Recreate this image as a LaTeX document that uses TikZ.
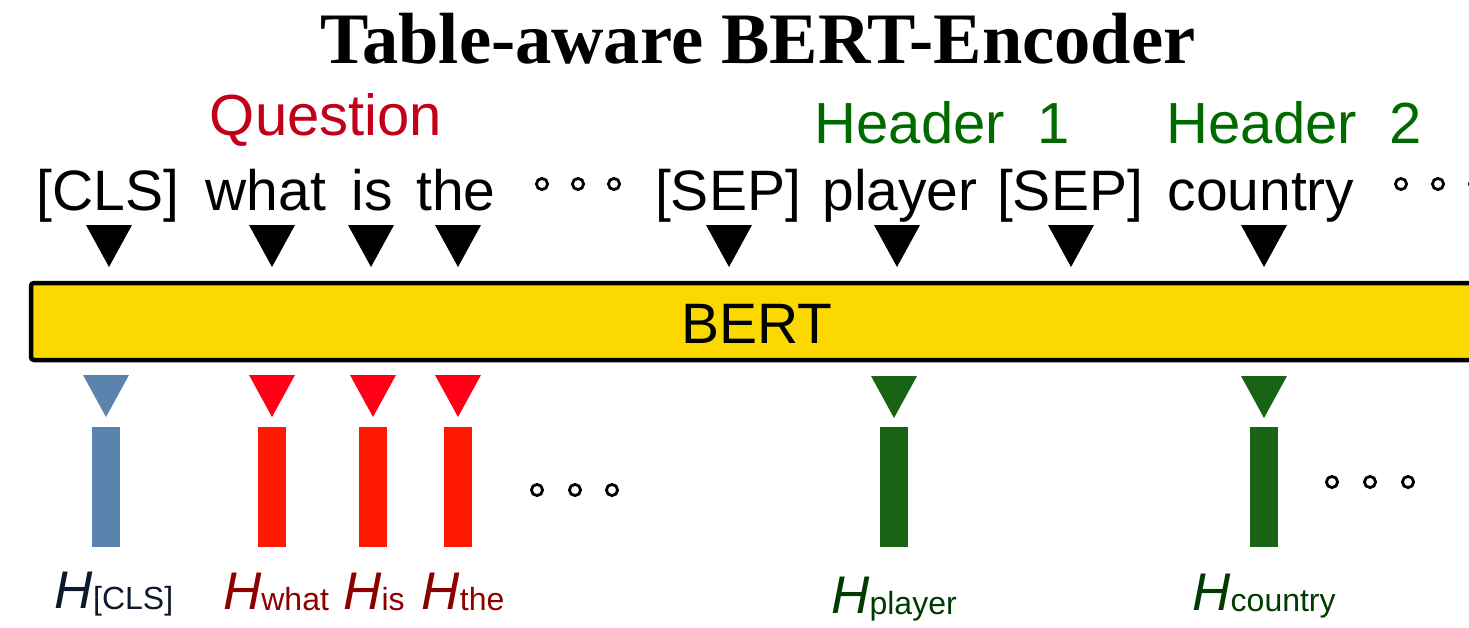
\documentclass[tikz,border=0pt]{standalone}
\usepackage{fontspec}
\setmainfont{Liberation Serif}
\newfontfamily\lsans{Liberation Sans}
\definecolor{bertyellow}{RGB}{250,216,0}
\definecolor{qred}{RGB}{195,0,25}
\definecolor{hgreen}{RGB}{0,105,0}
\definecolor{cblue}{RGB}{90,131,173}
\definecolor{tred}{RGB}{255,0,22}
\definecolor{bred}{RGB}{255,25,0}
\definecolor{dgreen}{RGB}{24,100,20}
\definecolor{labred}{RGB}{140,0,0}
\definecolor{labgreen}{RGB}{0,60,0}
\definecolor{labnavy}{RGB}{15,25,45}
\tikzset{
  tok/.style={font=\lsans\fontsize{57}{57}\selectfont, anchor=base, inner sep=0pt},
  grp/.style={font=\lsans\fontsize{58}{58}\selectfont, anchor=base, inner sep=0pt},
  hlab/.style={font=\lsans\fontsize{53}{53}\selectfont, anchor=base, inner sep=0pt},
  ring/.style={line width=2.8pt},
}
\newcommand{\downtri}[3]{\fill[#3] (#1-23,#2) -- (#1+23,#2) -- (#1,#2+42) -- cycle;}
\newcommand{\vbar}[3]{\fill[#3] (#1-14,#2) rectangle (#1+14,#2+120);}
\newcommand{\hsub}[1]{\raisebox{-1pt}{\fontsize{32}{32}\selectfont #1}}
\begin{document}
\begin{tikzpicture}[x=1pt,y=-1pt]
\useasboundingbox (0,0) rectangle (1469,627);
\clip (0,0) rectangle (1469,627);
% title
\node[font=\bfseries\fontsize{72.5}{72.5}\selectfont, anchor=base, inner sep=0pt] (title) at (758,63) {Table-aware BERT-Encoder};
% group labels
\node[grp, text=qred] (question) at (326,135) {Question};
\node[grp, text=hgreen] (header1) at (942,143) {Header\ \ 1};
\node[grp, text=hgreen] (header2) at (1294,143) {Header\ \ 2};
% tokens
\node[tok] (tcls) at (108,210) {[CLS]};
\node[tok] (twhat) at (266,210) {what};
\node[tok] (tis) at (372,210) {is};
\node[tok] (tthe) at (456,210) {the};
\node[tok] (tsep1) at (728,210) {[SEP]};
\node[tok] (tplayer) at (900,210) {player};
\node[tok] (tsep2) at (1070,210) {[SEP]};
\node[tok] (tcountry) at (1261,210) {country};
\foreach \x in {542,578,614} {\draw[ring] (\x,184) circle (5.6);}
\foreach \x in {1401,1438,1475} {\draw[ring] (\x,184) circle (5.6);}
% input triangles
\foreach \x in {109,272,371,458,729,897,1071,1264} {\downtri{\x}{225}{black}}
% BERT box
\draw[line width=4.5pt, fill=bertyellow, rounded corners=3pt] (31,283) rectangle (1520,360);
\node[tok] (bert) at (757,343) {BERT};
% output triangles and bars
\downtri{106}{375}{cblue}
\vbar{106}{427}{cblue}
\foreach \x in {272,373,458} {\downtri{\x}{375}{tred}\vbar{\x}{427}{bred}}
\foreach \x in {894,1264} {\downtri{\x}{376}{dgreen}\vbar{\x}{427}{dgreen}}
\foreach \x in {537,575,612} {\draw[ring] (\x,490) circle (5.6);}
\foreach \x in {1332,1370,1408} {\draw[ring] (\x,482) circle (5.6);}
% labels
\node[hlab, text=labnavy] (hcls) at (114,608) {\textit{H}\hsub{[CLS]}};
\node[hlab, text=labred] (hwhat) at (276,609) {\textit{H}\hsub{what}};
\node[hlab, text=labred] (his) at (374,609) {\textit{H}\hsub{is}};
\node[hlab, text=labred] (hthe) at (463,609) {\textit{H}\hsub{the}};
\node[hlab, text=labgreen] (hplayer) at (894,613) {\textit{H}\hsub{player}};
\node[hlab, text=labgreen] (hcountry) at (1264,610) {\textit{H}\hsub{country}};
\end{tikzpicture}
\end{document}
